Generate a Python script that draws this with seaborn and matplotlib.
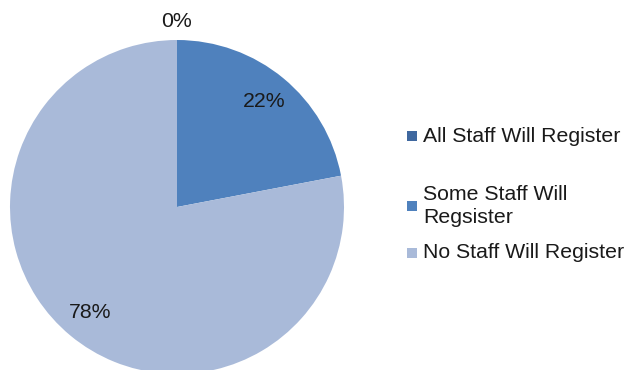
import matplotlib
matplotlib.use("Agg")
import matplotlib.pyplot as plt
from matplotlib.patches import Rectangle
import seaborn as sns

categories = ["All Staff Will Register", "Some Staff Will\nRegsister", "No Staff Will Register"]
shares = [0, 22, 78]
colors = ["#3F689F", "#4F81BD", "#A9BAD9"]

sns.set_theme(style="white")
plt.rcParams["font.family"] = ["Liberation Sans", "DejaVu Sans"]

W, H = 626, 370
FS = 15.3
fig = plt.figure(figsize=(W / 100, H / 100), dpi=100)

# pie axes: centre at (177, 207) px from top-left, radius 167 px
cx, cy, r = 177, 207, 167
ax = fig.add_axes([(cx - r) / W, (H - cy - r) / H, 2 * r / W, 2 * r / H])
wedges, _, pct_texts = ax.pie(
    shares, colors=colors, startangle=90, counterclock=False,
    autopct=lambda p: f"{p:.0f}%", pctdistance=0.82, radius=1,
    textprops=dict(fontsize=FS, color="#1a1a1a"),
    wedgeprops=dict(linewidth=0),
)
# the empty slice gets its label just outside the rim
x0, y0 = pct_texts[0].get_position()
pct_texts[0].set_position((x0 / 0.82 * 1.11, y0 / 0.82 * 1.11))
ax.set_xlim(-1, 1)
ax.set_ylim(-1, 1)
ax.set_aspect("equal")
ax.axis("off")

# legend entries on the right
entry_y = [136, 206, 253]
for label, col, y in zip(categories, colors, entry_y):
    fig.patches.append(Rectangle((407 / W, (H - y - 5) / H), 10 / W, 10 / H,
                                 transform=fig.transFigure, facecolor=col,
                                 edgecolor="none"))
    fig.text(423 / W, (H - y) / H, label, fontsize=FS, color="#1a1a1a",
             va="center", ha="left", linespacing=1.28)

fig.savefig("out.png", dpi=100)
